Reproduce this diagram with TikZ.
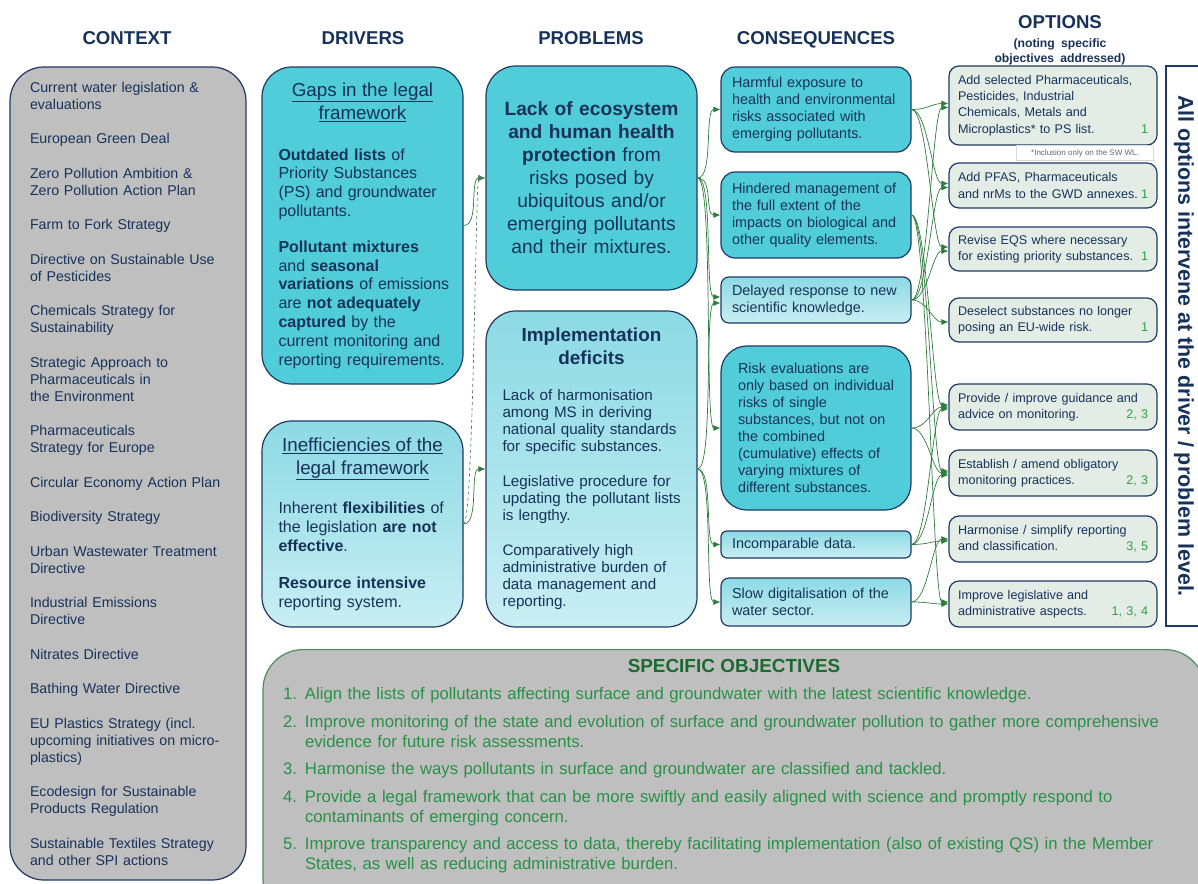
\documentclass[tikz,border=0pt]{standalone}
\usepackage{fontspec}
\setmainfont{Liberation Sans}
\usetikzlibrary{arrows.meta}

\definecolor{navy}{RGB}{31,56,100}
\definecolor{inknavy}{RGB}{23,50,90}
\definecolor{tealbox}{RGB}{80,205,216}
\definecolor{lighttop}{RGB}{140,218,228}
\definecolor{lightbot}{RGB}{200,238,243}
\definecolor{optfill}{RGB}{227,237,230}
\definecolor{ctxgray}{RGB}{191,191,191}
\definecolor{linkgreen}{RGB}{46,125,62}
\definecolor{objgreen}{RGB}{40,145,70}
\definecolor{objdark}{RGB}{30,105,50}
\definecolor{numgreen}{RGB}{45,160,70}
\definecolor{objedge}{RGB}{80,140,95}

\newcommand{\optnum}[1]{\nobreak\hfill{\color{numgreen}#1}}
\newcommand{\objitem}[2]{\par\hangindent=22pt\hangafter=1\noindent\makebox[22pt][l]{#1.}#2\par}

\begin{document}
\begin{tikzpicture}[
        %We set the units and define some styles
        x=1pt, y=-1pt,
        every node/.style={text=inknavy},
        head/.style={font=\fontsize{18.6}{20}\selectfont\bfseries, anchor=base},
        box/.style={draw=navy, line width=1.2pt, align=left},
        % lines may run a little into the padding instead of wrapping
        loose/.style={execute at begin node={\rightskip=0pt plus 1fil minus 30pt\relax}},
        dark box/.style={box, fill=tealbox},
        light box/.style={box, top color=lighttop, bottom color=lightbot},
        driver/.style={loose, rounded corners=30pt, minimum width=201pt, text width=168pt,
            inner xsep=16.5pt, font=\fontsize{16}{18.8}\selectfont},
        consequence/.style={loose, minimum width=190pt, text width=168pt, inner xsep=11pt,
            font=\fontsize{14.4}{17}\selectfont},
        option/.style={box, loose, fill=optfill, rounded corners=10pt, minimum width=208pt,
            text width=190pt, inner xsep=9pt, font=\fontsize{12.6}{16.3}\selectfont},
        link/.style={draw=linkgreen, line width=0.7pt, -{Latex[length=7pt,width=6pt]},
            to path={(\tikztostart) .. controls +(#1,0) and +(-#1,0) .. (\tikztotarget)}},
        link/.default=16,
        dashed link/.style={link=#1, dashed, draw=linkgreen!60!gray},
        dashed link/.default=10
     ]
    \useasboundingbox (0,0) rectangle (1198,883);

    % column headings
    \node[head] (h context) at (127,45) {CONTEXT};
    \node[head] (h drivers) at (363,45) {DRIVERS};
    \node[head] (h problems) at (591,45) {PROBLEMS};
    \node[head] (h conseq) at (816,45) {CONSEQUENCES};
    \node[head, text width=150pt, align=center] (h options) at (1060,29)
        {OPTIONS\\[4pt]{\fontsize{12.2}{15}\selectfont (noting specific\\objectives addressed)\par}};

    % Context
    \node[box, loose, fill=ctxgray, rounded corners=34pt, minimum width=236pt, minimum height=813pt,
          text width=196pt, inner xsep=20pt, font=\fontsize{14.2}{17}\selectfont] (context) at (128,473.5)
        {Current water legislation \&\\evaluations\\[17.5pt]
         European Green Deal\\[17.5pt]
         Zero Pollution Ambition \&\\Zero Pollution Action Plan\\[17.5pt]
         Farm to Fork Strategy\\[17.5pt]
         Directive on Sustainable Use\\of Pesticides\\[17.5pt]
         Chemicals Strategy for\\Sustainability\\[17.5pt]
         Strategic Approach to\\Pharmaceuticals in\\the Environment\\[17.5pt]
         Pharmaceuticals\\Strategy for Europe\\[17.5pt]
         Circular Economy Action Plan\\[17.5pt]
         Biodiversity Strategy\\[17.5pt]
         Urban Wastewater Treatment\\Directive\\[17.5pt]
         Industrial Emissions\\Directive\\[17.5pt]
         Nitrates Directive\\[17.5pt]
         Bathing Water Directive\\[17.5pt]
         EU Plastics Strategy (incl.\\upcoming initiatives on micro-\\plastics)\\[17.5pt]
         Ecodesign for Sustainable\\Products Regulation\\[17.5pt]
         Sustainable Textiles Strategy\\and other SPI actions};

    % Drivers
    \node[dark box, driver, minimum height=317pt] (gaps) at (362.5,225.5)
        {{\centering\fontsize{18.8}{23}\selectfont\underline{Gaps in the legal}\\\underline{framework}\par}\vspace{22pt}
         \textbf{Outdated lists} of\\Priority Substances\\(PS) and groundwater\\pollutants.\\[17pt]
         \textbf{Pollutant mixtures}\\and \textbf{seasonal}\\\textbf{variations} of emissions\\are \textbf{not adequately}\\\textbf{captured} by the\\current monitoring and\\reporting requirements.};
    \node[light box, driver, minimum height=206pt] (ineff) at (362.5,524)
        {{\centering\fontsize{18.8}{23}\selectfont\underline{Inefficiencies of the}\\\underline{legal framework}\par}\vspace{21pt}
         Inherent \textbf{flexibilities} of\\the legislation \textbf{are not}\\\textbf{effective}.\\[18pt]
         \textbf{Resource intensive}\\reporting system.};

    % Problems
    \node[dark box, rounded corners=30pt, minimum width=211pt, minimum height=224pt, text width=200pt,
          align=center, font=\fontsize{19.2}{23}\selectfont] (lack) at (591.5,178)
        {\textbf{Lack of ecosystem}\\\textbf{and human health}\\\textbf{protection} from\\risks posed by\\ubiquitous and/or\\emerging pollutants\\and their mixtures.};
    \node[light box, loose, rounded corners=30pt, minimum width=211pt, minimum height=316pt, text width=178pt,
          inner xsep=16.5pt, font=\fontsize{15.2}{17}\selectfont] (impl) at (591.5,469)
        {{\centering\bfseries\fontsize{18.9}{23}\selectfont Implementation\\deficits\par}\vspace{19pt}
         Lack of harmonisation\\among MS in deriving\\national quality standards\\for specific substances.\\[18pt]
         Legislative procedure for\\updating the pollutant lists\\is lengthy.\\[18pt]
         Comparatively high\\administrative burden of\\data management and\\reporting.};

    % Consequences
    \node[dark box, consequence, rounded corners=14pt, minimum height=85pt] (harm) at (816,109.5)
        {Harmful exposure to\\health and environmental\\risks associated with\\emerging pollutants.};
    \node[dark box, consequence, rounded corners=14pt, minimum height=86pt] (hinder) at (816,215)
        {Hindered management of\\the full extent of the\\impacts on biological and\\other quality elements.};
    \node[light box, consequence, rounded corners=8pt, minimum height=46pt] (delay) at (816,300)
        {Delayed response to new\\scientific knowledge.};
    \node[dark box, consequence, rounded corners=26pt, minimum height=164pt, text width=156pt,
          inner xsep=17pt] (risk) at (816,428)
        {Risk evaluations are\\only based on individual\\risks of single\\substances, but not on\\the combined\\(cumulative) effects of\\varying mixtures of\\different substances.};
    \node[light box, consequence, rounded corners=6pt, minimum height=27pt] (incomp) at (816,544.5)
        {Incomparable data.};
    \node[light box, consequence, rounded corners=8pt, minimum height=48pt] (slow) at (816,602)
        {Slow digitalisation of the\\water sector.};

    % Options
    \node[option, minimum height=79pt] (add ps) at (1053,105.5)
        {Add selected Pharmaceuticals,\\Pesticides, Industrial\\Chemicals, Metals and\\Microplastics* to PS list.\optnum{1}};
    \node[draw=black!15, fill=white, font=\fontsize{8}{9}\selectfont, text=black!60, minimum width=137pt,
          minimum height=15pt, inner sep=1pt] (footnote) at (1085,153) {*Inclusion only on the SW WL.};
    \node[option, minimum height=45pt] (add gwd) at (1053,185.5)
        {Add PFAS, Pharmaceuticals\\and nrMs to the GWD annexes.\optnum{1}};
    \node[option, minimum height=44pt] (revise) at (1053,249)
        {Revise EQS where necessary\\for existing priority substances.\optnum{1}};
    \node[option, minimum height=44pt] (deselect) at (1053,320)
        {Deselect substances no longer\\posing an EU-wide risk.\optnum{1}};
    \node[option, minimum height=46pt] (guidance) at (1053,407)
        {Provide / improve guidance and\\advice on monitoring.\optnum{2, 3}};
    \node[option, minimum height=46pt] (establish) at (1053,473)
        {Establish / amend obligatory\\monitoring practices.\optnum{2, 3}};
    \node[option, minimum height=46pt] (harmonise) at (1053,539)
        {Harmonise / simplify reporting\\and classification.\optnum{3, 5}};
    \node[option, minimum height=46pt] (improve) at (1053,604)
        {Improve legislative and\\administrative aspects.\optnum{1, 3, 4}};

    % side note
    \node[draw=navy, line width=1.2pt, fill=white, rotate=-90, minimum width=560pt, minimum height=36pt,
          inner sep=0pt, font=\fontsize{21.4}{24}\selectfont\bfseries] (all options) at (1184,346)
        {All options intervene at the driver / problem level.};

    % Specific objectives
    \node[draw=objedge, line width=1.2pt, fill=ctxgray, rounded corners=40pt, anchor=north, text width=902pt,
          inner xsep=20pt, inner ysep=10pt, align=left, text=objgreen,
          font=\fontsize{16.7}{20}\selectfont] (objectives) at (734,649)
        {{\centering\bfseries\fontsize{18.9}{20}\selectfont\textcolor{objdark}{SPECIFIC OBJECTIVES}\par}\vspace{7pt}
         \objitem{1}{Align the lists of pollutants affecting surface and groundwater with the latest scientific knowledge.}\vspace{8pt}
         \objitem{2}{Improve monitoring of the state and evolution of surface and groundwater pollution to gather more comprehensive\newline evidence for future risk assessments.}\vspace{7pt}
         \objitem{3}{Harmonise the ways pollutants in surface and groundwater are classified and tackled.}\vspace{8pt}
         \objitem{4}{Provide a legal framework that can be more swiftly and easily aligned with science and promptly respond to\newline contaminants of emerging concern.}\vspace{7pt}
         \objitem{5}{Improve transparency and access to data, thereby facilitating implementation (also of existing QS) in the Member\newline States, as well as reducing administrative burden.\rule[-40pt]{0pt}{0pt}}};

    % drivers to problems
    \draw[link] (gaps.east) to (lack.west);
    \draw[dashed link] (ineff.east) to (lack.west);
    \draw[link] (ineff.east) to (impl.west);
    % problems to consequences
    \foreach \c in {harm, hinder, risk}
        \draw[link] (lack.east) to (\c.west);
    \draw[link] (lack.east) to ([yshift=3pt]delay.west);
    \draw[link] (impl.east) to ([yshift=-3pt]delay.west);
    \foreach \c in {incomp, slow}
        \draw[link] (impl.east) to (\c.west);
    % consequences to options
    \foreach \o in {add ps, add gwd, revise}
        \draw[link] (harm.east) to ([yshift=2pt]\o.west);
    \foreach \o in {add ps, add gwd, revise, deselect}
        \draw[link] (delay.east) to ([yshift=-2pt]\o.west);
    \foreach \o in {guidance, establish, improve}
        \draw[link] (hinder.east) to ([yshift=2pt]\o.west);
    \foreach \o in {guidance, establish}
        \draw[link] (risk.east) to (\o.west);
    \foreach \o in {guidance, establish, harmonise}
        \draw[link] (incomp.east) to ([yshift=-2pt]\o.west);
    \foreach \o in {harmonise, improve}
        \draw[link] (slow.east) to (\o.west);
\end{tikzpicture}
\end{document}
